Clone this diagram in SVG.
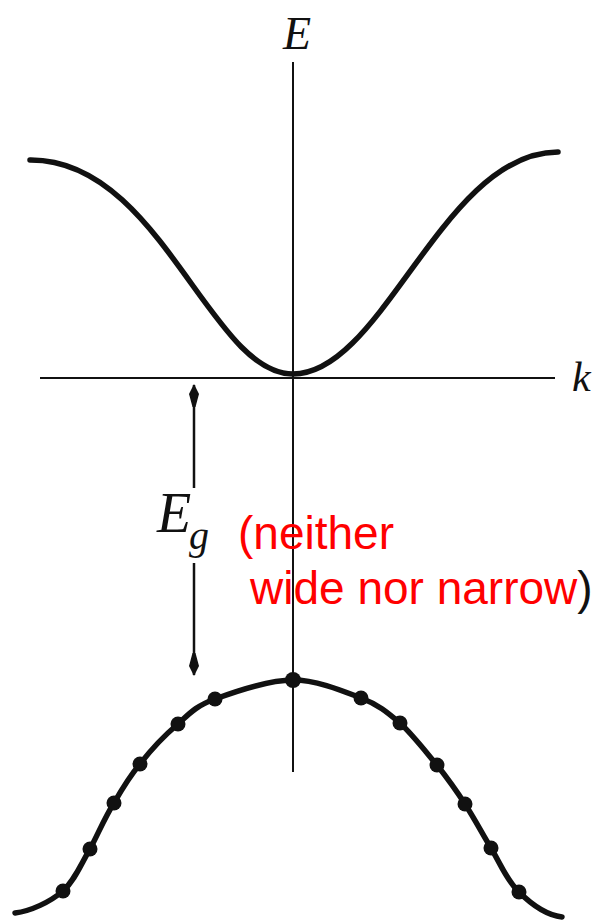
<svg xmlns="http://www.w3.org/2000/svg" width="606" height="921" viewBox="0 0 606 921">
<style>
.axis{stroke:#111;stroke-width:2;fill:none}
.band{stroke:#111;stroke-width:5.5;fill:none;stroke-linecap:round}
.dot{fill:#111}
.lbl{font-family:"Liberation Serif","DejaVu Serif",serif;font-style:italic;fill:#111}
.red{font-family:"Liberation Sans",Arial,sans-serif;font-size:46px;fill:#ff0000}
.arr{stroke:#111;stroke-width:2.5;fill:none}
</style>
<defs>
<marker id="ah" viewBox="-24 -6 26 12" markerWidth="26" markerHeight="12" refX="0" refY="0" orient="auto" markerUnits="userSpaceOnUse">
<path d="M1,0 L-9,-5 L-22,-1.5 L-22,1.5 L-9,5 Z" fill="#111"/>
</marker>
</defs>
<g id="axes">
<line id="e-axis" class="axis" x1="293" y1="62" x2="293" y2="772"/>
<line id="k-axis" class="axis" x1="40" y1="378" x2="555" y2="378"/>
</g>
<g id="conduction-band">
<path class="band" d="M30,160 C160,159 210,374 293,374 C383,374 443,152 558,152"/>
</g>
<g id="valence-band">
<path class="band" d="M15,913 C31,911 50,902 63,891 C75,880 81,864 90,849 C98,834 105,817 114,803 C122,789 129,777 140,764 C150,751 165,735 178,724 C190,713 196,706 215,699 C234,692 268,680 293,680 C317,680 343,691 361,698 C379,705 387,712 400,723 C412,734 426,752 437,765 C448,779 456,790 465,804 C474,818 482,833 491,848 C500,863 507,881 519,892 C531,904 546,915 562,917"/>
<circle class="dot" cx="63" cy="891" r="7.5"/>
<circle class="dot" cx="90" cy="849" r="7.5"/>
<circle class="dot" cx="114" cy="803" r="7.5"/>
<circle class="dot" cx="140" cy="764" r="7.5"/>
<circle class="dot" cx="178" cy="724" r="7.5"/>
<circle class="dot" cx="215" cy="699" r="7.5"/>
<circle class="dot" cx="293" cy="680" r="8"/>
<circle class="dot" cx="361" cy="698" r="7.5"/>
<circle class="dot" cx="400" cy="723" r="7.5"/>
<circle class="dot" cx="437" cy="765" r="7.5"/>
<circle class="dot" cx="465" cy="804" r="7.5"/>
<circle class="dot" cx="491" cy="848" r="7.5"/>
<circle class="dot" cx="519" cy="892" r="7.5"/>
</g>
<g id="connectors">
<line class="arr" x1="194" y1="488" x2="194" y2="385" marker-end="url(#ah)"/>
<line class="arr" x1="194" y1="563" x2="194" y2="675" marker-end="url(#ah)"/>
</g>
<g id="labels">
<text class="lbl" x="283" y="49" font-size="46">E</text>
<text class="lbl" x="572" y="391" font-size="42">k</text>
<text class="lbl" x="157" y="532" font-size="56">E</text>
<text class="lbl" x="189" y="549" font-size="40">g</text>
<text class="red" x="238" y="549">(neither</text>
<text class="red" x="250" y="604">wide nor narrow<tspan fill="#111">)</tspan></text>
</g>
</svg>
